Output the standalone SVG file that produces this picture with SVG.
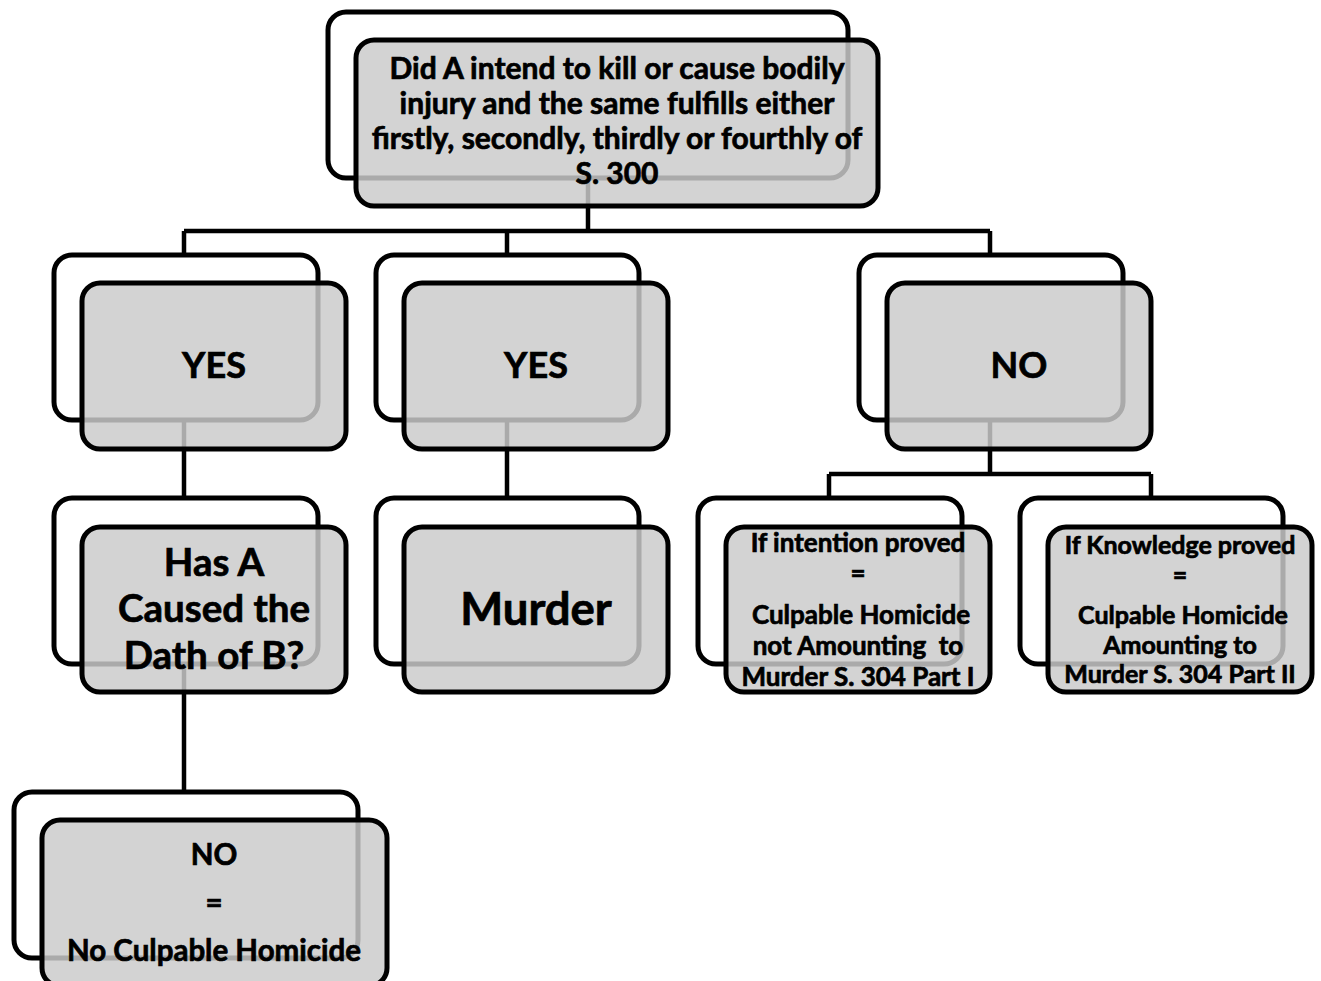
<svg xmlns="http://www.w3.org/2000/svg" width="1321" height="981" viewBox="0 0 1321 981">
<style>
.back{fill:#ffffff;stroke:#000;stroke-width:5}
.front{fill:#cacaca;fill-opacity:0.84;stroke:#000;stroke-width:5}
.conn{fill:none;stroke:#000;stroke-width:4.5}
text{font-family:Lato,"Liberation Sans",sans-serif;font-weight:bold;fill:#000;stroke:#000;stroke-width:0.7;text-anchor:middle}
.t1{font-size:30px}
.t2{font-size:36px}
.t3{font-size:38.5px}
.t4{font-size:45.5px}
.t5{font-size:26px}
.t5b{font-size:25px}
.t6{font-size:29.5px}
</style>
<rect width="1321" height="981" fill="#fff"/>
<g id="connectors">
<path class="conn" d="M588 178 V231 M184 231 H990 M184 231 V255 M507 231 V255 M990 231 V255"/>
<path class="conn" d="M184 420 V498 M507 420 V498"/>
<path class="conn" d="M990 420 V474 M829 474 H1151 M829 474 V498 M1151 474 V498"/>
<path class="conn" d="M184 664 V792"/>
</g>
<g id="n-root">
<rect class="back" x="328" y="12" width="520" height="166" rx="18"/>
<rect class="front" x="356" y="40" width="522" height="166" rx="18"/>
<text class="t1" x="617" y="79">Did A intend to kill or cause bodily</text>
<text class="t1" x="617" y="114">injury and the same fulfills either</text>
<text class="t1" x="617" y="149">firstly, secondly, thirdly or fourthly of</text>
<text class="t1" x="617" y="184">S. 300</text>
</g>
<g id="n-yes1">
<rect class="back" x="54" y="255" width="264" height="165" rx="18"/>
<rect class="front" x="82" y="283" width="264" height="166" rx="18"/>
<text class="t2" x="214" y="378">YES</text>
</g>
<g id="n-yes2">
<rect class="back" x="376" y="255" width="263" height="165" rx="18"/>
<rect class="front" x="404" y="283" width="264" height="166" rx="18"/>
<text class="t2" x="536" y="378">YES</text>
</g>
<g id="n-no">
<rect class="back" x="859" y="255" width="264" height="165" rx="18"/>
<rect class="front" x="887" y="283" width="264" height="166" rx="18"/>
<text class="t2" x="1019" y="378">NO</text>
</g>
<g id="n-hasa">
<rect class="back" x="54" y="498" width="264" height="166" rx="18"/>
<rect class="front" x="82" y="527" width="264" height="165" rx="18"/>
<text class="t3" x="214" y="576">Has A</text>
<text class="t3" x="214" y="622">Caused the</text>
<text class="t3" x="214" y="669">Dath of B?</text>
</g>
<g id="n-murder">
<rect class="back" x="376" y="498" width="263" height="166" rx="18"/>
<rect class="front" x="404" y="527" width="264" height="165" rx="18"/>
<text class="t4" x="536" y="625">Murder</text>
</g>
<g id="n-intention">
<rect class="back" x="698" y="498" width="264" height="166" rx="18"/>
<rect class="front" x="726" y="527" width="264" height="165" rx="18"/>
<text class="t5" x="858" y="552">If intention proved</text>
<text class="t5" x="858" y="582">=</text>
<text class="t5" x="861" y="624">Culpable Homicide</text>
<text class="t5" x="858" y="655" xml:space="preserve">not Amounting  to</text>
<text class="t5" x="858" y="686">Murder S. 304 Part I</text>
</g>
<g id="n-knowledge">
<rect class="back" x="1020" y="498" width="263" height="166" rx="18"/>
<rect class="front" x="1048" y="527" width="264" height="165" rx="18"/>
<text class="t5b" x="1180" y="554">If Knowledge proved</text>
<text class="t5b" x="1180" y="584">=</text>
<text class="t5b" x="1183" y="624">Culpable Homicide</text>
<text class="t5b" x="1180" y="654">Amounting to</text>
<text class="t5b" x="1180" y="683">Murder S. 304 Part II</text>
</g>
<g id="n-nodeath">
<rect class="back" x="14" y="792" width="344" height="166" rx="18"/>
<rect class="front" x="42" y="820" width="345" height="166" rx="18"/>
<text class="t6" x="214" y="865">NO</text>
<text class="t6" x="214" y="913">=</text>
<text class="t6" x="214" y="961">No Culpable Homicide</text>
</g>
</svg>
